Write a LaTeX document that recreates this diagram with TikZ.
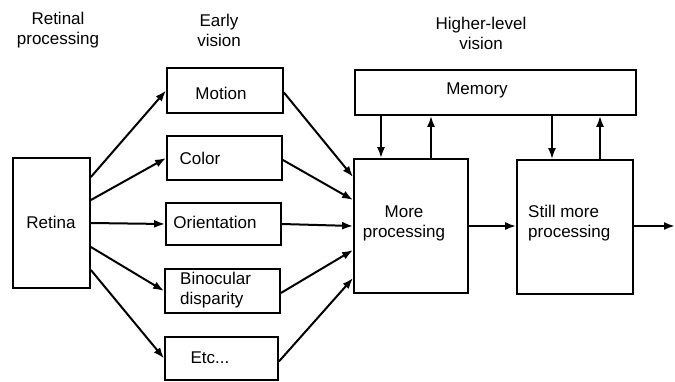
\documentclass[tikz,border=0pt]{standalone}
\usepackage{fontspec}
\setmainfont{Liberation Sans}
\usetikzlibrary{arrows.meta}
\begin{document}
\begin{tikzpicture}[x=1pt,y=-1pt,
  box/.style={draw=black,line width=1.8pt,inner sep=0pt},
  lbl/.style={font=\fontsize{17}{20}\selectfont,inner sep=0pt,align=center},
  arr/.style={line width=2pt,-{Latex[length=11pt,width=8pt]}}]
\useasboundingbox (0,0) rectangle (675,381);
% stage headings
\node[lbl] (h1) at (58,30) {Retinal\\processing};
\node[lbl] (h2) at (219,30) {Early\\vision};
\node[lbl] (h3) at (481,33) {Higher-level\\vision};
% boxes
\node[box,minimum width=77pt,minimum height=130pt] (ret) at (51.5,223) {};
\node[box,minimum width=116pt,minimum height=45pt] (mot) at (225,90.5) {};
\node[box,minimum width=115pt,minimum height=44pt] (col) at (224.5,158) {};
\node[box,minimum width=115pt,minimum height=42pt] (ori) at (223.5,224) {};
\node[box,minimum width=115pt,minimum height=44pt] (bin) at (222.5,291) {};
\node[box,minimum width=113pt,minimum height=43pt] (etc) at (221.5,358.5) {};
\node[box,minimum width=281pt,minimum height=45pt] (mem) at (495.5,92.5) {};
\node[box,minimum width=114pt,minimum height=134pt] (more) at (411,226) {};
\node[box,minimum width=116pt,minimum height=134pt] (still) at (575,227) {};
% box texts
\node[lbl] (tret) at (51,222) {Retina};
\node[lbl] (tmot) at (221,93) {Motion};
\node[lbl] (tcol) at (200,158) {Color};
\node[lbl] (tori) at (215,222) {Orientation};
\node[lbl,anchor=west,align=left] (tbin) at (180,290) {Binocular\\disparity};
\node[lbl] (tetc) at (210,358) {Etc...};
\node[lbl] (tmem) at (477,90) {Memory};
\node[lbl] (tmore) at (404,223) {More\\processing};
\node[lbl,anchor=west,align=left] (tstill) at (528,223) {Still more\\processing};
% retina to early vision
\draw[arr] ([yshift=46pt]ret.east) -- (mot.west);
\draw[arr] ([yshift=23pt]ret.east) -- (col.west);
\draw[arr] (ret.east) -- (ori.west);
\draw[arr] ([yshift=-24pt]ret.east) -- (bin.west);
\draw[arr] ([yshift=-47pt]ret.east) -- (etc.west);
% early vision to higher-level processing
\draw[arr] ([yshift=-2pt]mot.east) -- ([yshift=49pt]more.west);
\draw[arr] ([yshift=-2pt]col.east) -- ([yshift=26pt]more.west);
\draw[arr] (ori.east) -- (more.west);
\draw[arr] ([yshift=-2pt]bin.east) -- ([yshift=-24pt]more.west);
\draw[arr] ([yshift=-3pt]etc.east) -- ([yshift=-52pt]more.west);
% memory exchanges
\draw[arr] ([xshift=-30pt]more.north |- mem.south) -- ([xshift=-30pt]more.north);
\draw[arr] ([xshift=20pt]more.north) -- ([xshift=20pt]more.north |- mem.south);
\draw[arr] ([xshift=-23pt]still.north |- mem.south) -- ([xshift=-23pt]still.north);
\draw[arr] ([xshift=25pt]still.north) -- ([xshift=25pt]still.north |- mem.south);
% onward flow
\coordinate (out) at (675,226);
\draw[arr] (more.east) -- (more.east -| still.west);
\draw[arr] (still.east |- out) -- (out);
\end{tikzpicture}
\end{document}
